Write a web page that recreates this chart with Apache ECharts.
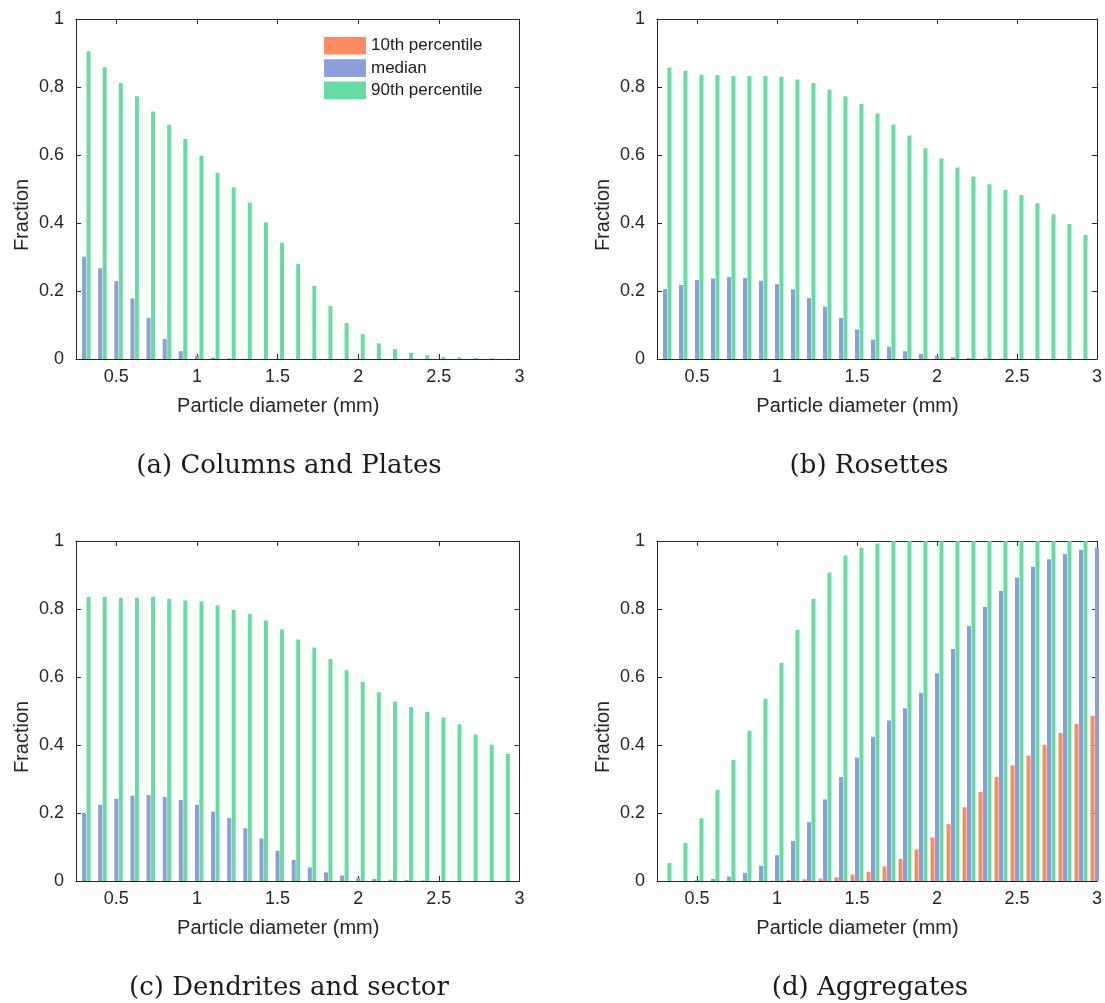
<!DOCTYPE html>
<html>
<head>
<meta charset="utf-8">
<title>Particle diameter fractions</title>
<script src="https://cdn.jsdelivr.net/npm/echarts@6/dist/echarts.min.js"></script>
<style>
  html, body { margin: 0; padding: 0; background: #ffffff; }
  #chart { width: 1105px; height: 1003px; }
</style>
</head>
<body>
<div id="chart"></div>
<script>
// Bin centres (mm)
const diameter = [0.3, 0.4, 0.5, 0.6, 0.7, 0.8, 0.9, 1.0, 1.1, 1.2, 1.3, 1.4, 1.5, 1.6,
                  1.7, 1.8, 1.9, 2.0, 2.1, 2.2, 2.3, 2.4, 2.5, 2.6, 2.7, 2.8, 2.9, 3.0];

const seriesNames = ['10th percentile', 'median', '90th percentile'];
const xTickValues = [0.5, 1, 1.5, 2, 2.5, 3];
const panelCaptions = ['(a) Columns and Plates', '(b) Rosettes', '(c) Dendrites and sector', '(d) Aggregates'];

// (a) Columns and Plates
const columnsP10 = [0, 0, 0, 0, 0, 0, 0, 0, 0, 0, 0, 0, 0, 0, 0, 0, 0, 0, 0, 0, 0, 0, 0, 0, 0, 0, 0, 0];
const columnsMedian = [0.301, 0.267, 0.229, 0.178, 0.121, 0.059, 0.023, 0.010, 0.004, 0.002, 0.001, 0, 0, 0,
                       0, 0, 0, 0, 0, 0, 0, 0, 0, 0, 0, 0, 0, 0];
const columnsP90 = [0.905, 0.858, 0.812, 0.773, 0.728, 0.689, 0.647, 0.598, 0.548, 0.505, 0.460, 0.402, 0.342, 0.280,
                    0.215, 0.156, 0.106, 0.073, 0.046, 0.029, 0.018, 0.011, 0.006, 0.005, 0.003, 0.002, 0.001, null];

// (b) Rosettes
const rosettesP10 = [0, 0, 0, 0, 0, 0, 0, 0, 0, 0, 0, 0, 0, 0, 0, 0, 0, 0, 0, 0, 0, 0, 0, 0, 0, 0, 0, 0];
const rosettesMedian = [0.206, 0.218, 0.232, 0.237, 0.241, 0.238, 0.230, 0.220, 0.205, 0.179, 0.154, 0.121, 0.087, 0.057,
                        0.036, 0.023, 0.015, 0.009, 0.005, 0.003, 0.002, 0.001, 0, 0, 0, 0, 0, 0];
const rosettesP90 = [0.857, 0.848, 0.836, 0.835, 0.832, 0.832, 0.832, 0.830, 0.822, 0.812, 0.793, 0.773, 0.750, 0.722,
                     0.690, 0.657, 0.620, 0.590, 0.563, 0.537, 0.514, 0.497, 0.482, 0.458, 0.426, 0.397, 0.365, null];

// (c) Dendrites and sector
const dendritesP10 = [0, 0, 0, 0, 0, 0, 0, 0, 0, 0, 0, 0, 0, 0, 0, 0, 0, 0, 0, 0, 0, 0, 0, 0, 0, 0, 0, 0];
const dendritesMedian = [0.201, 0.224, 0.242, 0.251, 0.253, 0.247, 0.238, 0.224, 0.204, 0.185, 0.155, 0.125, 0.089, 0.062,
                         0.040, 0.025, 0.016, 0.010, 0.006, 0.004, 0.003, 0.002, 0, 0, 0, 0, 0, 0];
const dendritesP90 = [0.835, 0.836, 0.833, 0.833, 0.836, 0.830, 0.825, 0.822, 0.810, 0.797, 0.785, 0.766, 0.740, 0.710,
                      0.687, 0.653, 0.620, 0.585, 0.555, 0.528, 0.512, 0.497, 0.481, 0.461, 0.431, 0.401, 0.374, null];

// (d) Aggregates
const aggregatesP10 = [0, 0, 0, 0, 0, 0, 0, 0.001, 0.003, 0.005, 0.007, 0.011, 0.019, 0.027,
                       0.043, 0.065, 0.093, 0.128, 0.167, 0.217, 0.262, 0.306, 0.340, 0.369, 0.401, 0.435, 0.462, 0.486];
const aggregatesMedian = [0, 0, 0.003, 0.006, 0.013, 0.024, 0.045, 0.076, 0.118, 0.173, 0.240, 0.306, 0.363, 0.424,
                          0.472, 0.508, 0.554, 0.611, 0.682, 0.750, 0.806, 0.853, 0.893, 0.924, 0.946, 0.962, 0.974, 0.981];
const aggregatesP90 = [0.053, 0.112, 0.184, 0.268, 0.356, 0.442, 0.536, 0.642, 0.738, 0.830, 0.907, 0.957, 0.980, 0.993,
                       1.0, 1.0, 1.0, 1.0, 1.0, 1.0, 1.0, 1.0, 1.0, 1.0, 1.0, 1.0, 1.0, null];

const panels = [
  [columnsP10, columnsMedian, columnsP90],
  [rosettesP10, rosettesMedian, rosettesP90],
  [dendritesP10, dendritesMedian, dendritesP90],
  [aggregatesP10, aggregatesMedian, aggregatesP90]
];

const colors = ['#fc8b62', '#8c9fdb', '#66dba2'];
const axisColor = '#262626';
const sansFont = '"Liberation Sans", Arial, Helvetica, sans-serif';
const serifFont = '"DejaVu Serif", "Liberation Serif", serif';

// Plot rectangles for the 2 x 2 layout
const gridBoxes = [
  { left: 76,  top: 19,  width: 443.5, height: 340 },
  { left: 657, top: 19,  width: 443.5, height: 340 },
  { left: 76,  top: 541, width: 443.5, height: 340 },
  { left: 657, top: 541, width: 443.5, height: 340 }
];

const lineStyle = { color: axisColor, width: 1 };

const grids = [];
const xAxes = [];
const yAxes = [];
const series = [];

gridBoxes.forEach((box, i) => {
  grids.push(Object.assign({ containLabel: false }, box));

  // bottom axis (labelled) and top axis (ticks only) for the box frame
  xAxes.push({
    type: 'value', gridIndex: i, position: 'bottom', min: 0.25, max: 3,
    axisLine: { show: true, onZero: false, lineStyle },
    axisTick: { show: true, inside: true, length: 5, customValues: xTickValues, lineStyle },
    axisLabel: { show: true, customValues: xTickValues, fontSize: 18, color: axisColor,
                 fontFamily: sansFont, margin: 9 },
    splitLine: { show: false },
    name: 'Particle diameter (mm)', nameLocation: 'middle', nameGap: 37,
    nameTextStyle: { fontSize: 20, color: axisColor, fontFamily: sansFont, padding: [0, 39, 0, 0] }
  });
  xAxes.push({
    type: 'value', gridIndex: i, position: 'top', min: 0.25, max: 3,
    axisLine: { show: true, onZero: false, lineStyle },
    axisTick: { show: true, inside: true, length: 5, customValues: xTickValues, lineStyle },
    axisLabel: { show: false },
    splitLine: { show: false }
  });

  // left axis (labelled) and right axis (ticks only)
  yAxes.push({
    type: 'value', gridIndex: i, position: 'left', min: 0, max: 1, interval: 0.2,
    axisLine: { show: true, onZero: false, lineStyle },
    axisTick: { show: true, inside: true, length: 5, lineStyle },
    axisLabel: { show: true, fontSize: 18, color: axisColor, fontFamily: sansFont, margin: 12 },
    splitLine: { show: false },
    name: 'Fraction', nameLocation: 'middle', nameGap: 44, nameRotate: 90,
    nameTextStyle: { fontSize: 20, color: axisColor, fontFamily: sansFont, padding: [0, 52, 0, 0] }
  });
  yAxes.push({
    type: 'value', gridIndex: i, position: 'right', min: 0, max: 1, interval: 0.2,
    axisLine: { show: true, onZero: false, lineStyle },
    axisTick: { show: true, inside: true, length: 5, lineStyle },
    axisLabel: { show: false },
    splitLine: { show: false }
  });

  panels[i].forEach((values, k) => {
    series.push({
      type: 'bar',
      name: seriesNames[k],
      xAxisIndex: 2 * i,
      yAxisIndex: 2 * i,
      barWidth: 4,
      barGap: '12%',
      clip: true,
      itemStyle: { color: colors[k] },
      emphasis: { disabled: true },
      data: diameter.map((d, j) => [d, values[j]])
    });
  });
});

const captionPositions = [[289, 466], [869, 466], [289, 988], [870, 988]];
const captions = panelCaptions.map((text, i) => ({
  type: 'text',
  x: captionPositions[i][0],
  y: captionPositions[i][1],
  style: {
    text, fill: '#1a1a1a', font: '26px ' + serifFont,
    textAlign: 'center', textVerticalAlign: 'middle'
  }
}));

const chart = echarts.init(document.getElementById('chart'), null, { renderer: 'canvas' });
chart.setOption({
  animation: false,
  backgroundColor: '#ffffff',
  color: colors,
  grid: grids,
  xAxis: xAxes,
  yAxis: yAxes,
  legend: {
    data: seriesNames,
    orient: 'vertical',
    left: 324,
    top: 37,
    padding: 0,
    icon: 'rect',
    itemWidth: 42,
    itemHeight: 17.6,
    itemGap: 4.7,
    selectedMode: false,
    textStyle: { fontSize: 17, color: '#1a1a1a', fontFamily: sansFont }
  },
  tooltip: { show: false },
  graphic: captions,
  series
});
</script>
</body>
</html>
